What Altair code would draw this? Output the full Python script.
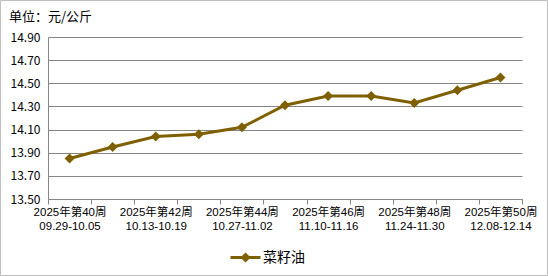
import altair as alt
import pandas as pd

weeks = ["2025年第40周", "2025年第41周", "2025年第42周", "2025年第43周", "2025年第44周",
         "2025年第45周", "2025年第46周", "2025年第47周", "2025年第48周", "2025年第49周",
         "2025年第50周"]
dates = ["09.29-10.05", "10.06-10.12", "10.13-10.19", "10.20-10.26", "10.27-11.02",
         "11.03-11.09", "11.10-11.16", "11.17-11.23", "11.24-11.30", "12.01-12.07",
         "12.08-12.14"]
prices = [13.85, 13.95, 14.04, 14.06, 14.12, 14.31, 14.39, 14.39, 14.33, 14.44, 14.55]
series_name = "菜籽油"
y_ticks = [13.5, 13.7, 13.9, 14.1, 14.3, 14.5, 14.7, 14.9]
title_text = "单位：元/公斤"

COLOR = "#7F6000"
GRID = "#868686"
FONT = "Noto Sans CJK SC"
LFONT = "Liberation Sans, Noto Sans CJK SC"
W, H = 474, 162

df = pd.DataFrame({
    "cat": [w + "|" + d for w, d in zip(weeks, dates)],
    "price": prices,
    "series": [series_name] * len(prices),
})

x_enc = alt.X(
    "cat:N", sort=None, title=None,
    scale=alt.Scale(type="band", paddingInner=0, paddingOuter=0),
    axis=alt.Axis(
        tickBand="extent", tickSize=5, tickColor=GRID, domainColor=GRID,
        labelExpr="test(regexp('第(40|42|44|46|48|50)周'), datum.value) ? split(datum.value, '|') : ''",
        labelAngle=0, labelOverlap=False, labelFont=LFONT, labelFontSize=11.5,
        labelColor="#000000", labelPadding=2, labelLineHeight=14.5, labelBaseline="top",
        grid=False,
    ),
)
y_enc = alt.Y(
    "price:Q", title=None,
    scale=alt.Scale(domain=[13.5, 14.9], nice=False, zero=False),
    axis=alt.Axis(
        values=y_ticks, format=".2f", ticks=False, grid=True, gridColor=GRID,
        domainColor=GRID, labelFont=FONT, labelFontSize=12, labelColor="#000000",
        labelPadding=8,
    ),
)

base = alt.Chart(df)
line = base.mark_line(strokeWidth=3).encode(
    x=x_enc, y=y_enc,
    color=alt.Color(
        "series:N", scale=alt.Scale(range=[COLOR]),
        legend=alt.Legend(
            title=None, orient="none", legendX=181, legendY=204,
            symbolType="M-1,0L1,0M0,-0.2L0.2,0L0,0.2L-0.2,0Z",
            symbolSize=900, symbolStrokeWidth=3, symbolStrokeColor=COLOR,
            symbolFillColor=COLOR, labelFont=FONT, labelFontSize=14,
            labelColor="#000000", labelOffset=1,
        ),
    ),
)
points = base.mark_point(shape="diamond", filled=True, size=100, opacity=1,
                         color=COLOR).encode(x=x_enc, y=y_enc)

title = alt.Chart(pd.DataFrame({"t": [title_text]})).mark_text(
    align="left", baseline="middle", font=FONT, fontSize=13, color="#000000"
).encode(text="t:N", x=alt.value(-39), y=alt.value(-20))

border = alt.Chart(pd.DataFrame({"a": [0]})).mark_rect(
    fillOpacity=0, stroke="#BFBFBF", strokeWidth=1
).encode(x=alt.value(-47.5), x2=alt.value(W + 25.5), y=alt.value(-36.5), y2=alt.value(H + 76.5))

chart = alt.layer(border, line, points, title).properties(
    width=W, height=H,
    autosize=alt.AutoSizeParams(type="none"),
    padding={"left": 48, "top": 37, "right": 26, "bottom": 77},
    background="#FFFFFF",
).configure_view(stroke=None)

chart.save("out.html", embed_options={"renderer": "svg", "actions": False})
